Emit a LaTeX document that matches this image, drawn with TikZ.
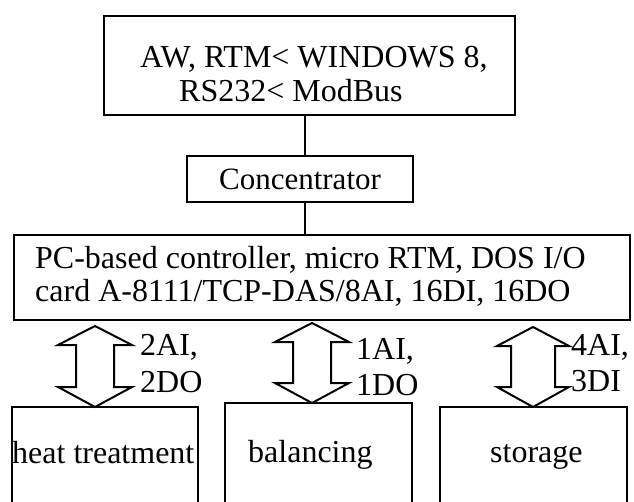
\documentclass[tikz,border=0pt]{standalone}
\usepackage{fontspec}
\setmainfont{Liberation Serif}
\usetikzlibrary{calc}
\tikzset{
  box/.style={draw, line width=2.4pt, anchor=north west, inner sep=0pt, outer sep=0pt},
  openbox/.style={anchor=north west, inner sep=0pt, outer sep=0pt},
  lbl/.style={anchor=base west, inner sep=0pt, font=\fontsize{32}{34}\selectfont},
  link/.style={line width=2.4pt},
  arr/.style={line width=2pt, line join=miter},
  side/.style={line width=2.4pt},
}
\newcommand\dblarrow[4]{%
  \draw[arr] let \p1=(#1), \p2=(#2) in
    (\p1) -- (\x1+#3,\y1-19pt) -- (\x1+#4,\y1-19pt) -- (\x1+#4,\y2+20pt)
    -- (\x1+#3,\y2+20pt) -- (\x1,\y2) -- (\x1-#3,\y2+20pt) -- (\x1-#4,\y2+20pt)
    -- (\x1-#4,\y1-19pt) -- (\x1-#3,\y1-19pt) -- cycle;}
\begin{document}
\begin{tikzpicture}[x=1pt,y=-1pt]
\useasboundingbox (0,0) rectangle (634,502);
% top box
\node[box, minimum width=411pt, minimum height=99pt] (top) at (104,16) {};
\node[lbl] (t1) at (140,68) {AW, RTM< WINDOWS 8,};
\node[lbl] (t2) at (179,102) {RS232< ModBus};
% concentrator
\node[box, minimum width=226pt, minimum height=46pt, font=\fontsize{31}{33}\selectfont] (conc) at (187,156) {Concentrator};
% PC box
\node[box, minimum width=616pt, minimum height=85pt] (pc) at (14,235) {};
\node[lbl] (p1) at (35,269) {PC-based controller, micro RTM, DOS I/O};
\node[lbl] (p2) at (35,302) {card A-8111/TCP-DAS/8AI, 16DI, 16DO};
% bus connectors
\coordinate (bus) at (305,0);
\draw[link] (top.south -| bus) -- (conc.north -| bus);
\draw[link] (conc.south -| bus) -- (pc.north -| bus);
% bottom boxes (open at the bottom)
\node[openbox, minimum width=186pt, minimum height=96pt] (heat) at (12,407) {};
\node[openbox, minimum width=187pt, minimum height=100pt] (bal) at (225,403) {};
\node[openbox, minimum width=187pt, minimum height=96pt] (sto) at (440,407) {};
\foreach \b in {heat,bal,sto}
  \draw[side] (\b.south west) -- (\b.north west) -- (\b.north east) -- (\b.south east);
\node[lbl] (hl) at (12,463) {heat treatment};
\node[lbl] (bl) at (248,462) {balancing};
\node[lbl] (sl) at (490,462) {storage};
% double arrows
\coordinate (a1t) at (95,326);  \coordinate (a1b) at (a1t |- heat.north);
\coordinate (a2t) at (312,323); \coordinate (a2b) at (a2t |- bal.north);
\coordinate (a3t) at (533,327); \coordinate (a3b) at (a3t |- sto.north);
\dblarrow{a1t}{a1b}{37pt}{19pt}
\dblarrow{a2t}{a2b}{37pt}{19pt}
\dblarrow{a3t}{a3b}{36pt}{22pt}
% arrow labels
\node[lbl] (l1a) at (140,355) {2AI,};
\node[lbl] (l1b) at (140,392) {2DO};
\node[lbl] (l2a) at (356,359) {1AI,};
\node[lbl] (l2b) at (356,395) {1DO};
\node[lbl] (l3a) at (571,355) {4AI,};
\node[lbl] (l3b) at (571,391) {3DI};
\end{tikzpicture}
\end{document}
